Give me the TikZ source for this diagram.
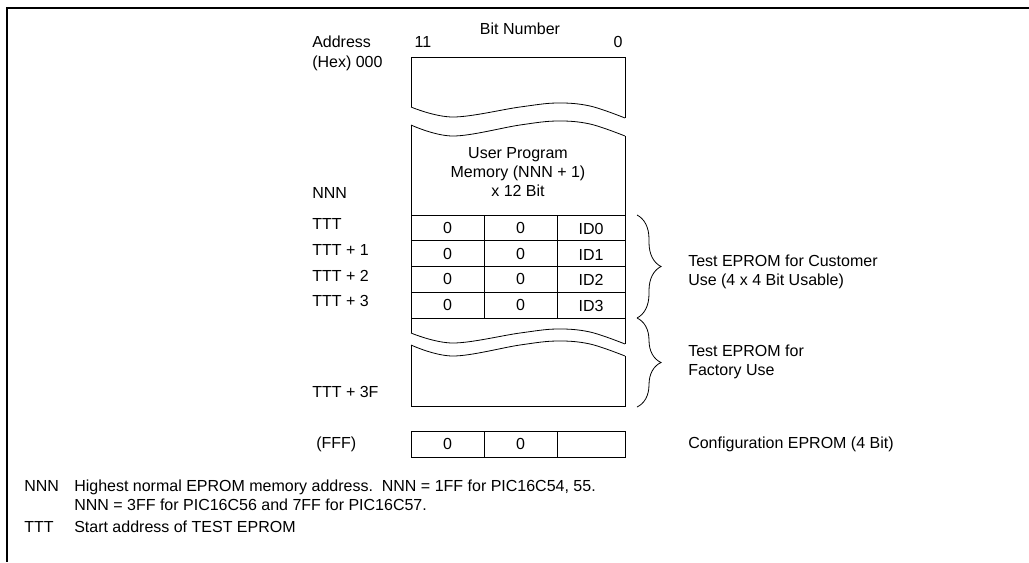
\documentclass[tikz,border=0pt]{standalone}
\usepackage{fontspec}
\setmainfont{Liberation Sans}
\usetikzlibrary{positioning, decorations.pathreplacing}

\begin{document}
\begin{tikzpicture}[x=0.75pt, y=-0.75pt,
  txt/.style={font=\fontsize{12}{14.3}\selectfont, inner sep=0pt},
  addr/.style={txt, anchor=base west},
  cell/.style={txt},
  note/.style={txt, anchor=base west},
  mem/.style={line width=0.6pt},
  frame/.style={line width=1.4pt},
  curly/.style={mem, decorate, decoration={brace, amplitude=18pt}},
  wave/.style={mem, smooth, tension=0.6},
]
  \useasboundingbox (0,0) rectangle (1029,562);
  \def\xl{411}   % left edge of memory map
  \def\xr{625}   % right edge
  \def\xa{484}   % first column divider
  \def\xb{557}   % second column divider
  \def\rt{215}   % top of ID rows
  \def\rh{25.75} % row height

  % --- frame ---
  \draw[frame] (1029,8) -- (7,8) -- (7,562);

  % --- heading ---
  \node[txt] (bitnum) at (520,29) {Bit Number};
  \node[txt] (msb) at (423,42) {11};
  \node[txt] (lsb) at (618,42) {0};

  % --- memory block, broken twice ---
  \draw[mem] (\xl,107) -- (\xl,57) -- (\xr,57) -- (\xr,118);
  \draw[wave] plot coordinates {(411,107) (453,117) (520,107) (557,103) (590,106) (625,118)};
  \draw[wave] plot coordinates {(411,125) (453,136) (520,125) (557,121) (590,124) (625,136)};
  \draw[mem] (\xl,125) -- (\xl,333);
  \draw[mem] (\xr,136) -- (\xr,344);
  \draw[wave] plot coordinates {(411,333) (453,343) (520,333) (557,329) (590,332) (625,344)};
  \draw[wave] plot coordinates {(411,345) (453,356) (520,345) (557,341) (590,344) (625,356)};
  \draw[mem] (\xl,345) -- (\xl,406) -- (\xr,406) -- (\xr,356);

  \node[txt, align=center] (upm) at (518,172) {User Program\\Memory (NNN + 1)\\x 12 Bit};

  % --- ID rows ---
  \draw[mem] (\xa,\rt) -- (\xa,\rt+4*\rh);
  \draw[mem] (\xb,\rt) -- (\xb,\rt+4*\rh);
  \foreach \r in {0,...,4}
    \draw[mem] (\xl,\rt+\r*\rh) -- (\xr,\rt+\r*\rh);
  \foreach \r in {0,...,3} {
    \node[cell] (za\r) at ({(\xl+\xa)/2}, \rt+\r*\rh+\rh/2) {0};
    \node[cell] (zb\r) at ({(\xa+\xb)/2}, \rt+\r*\rh+\rh/2) {0};
    \node[cell] (id\r) at ({(\xb+\xr)/2}, \rt+\r*\rh+\rh/2+1) {ID\r};
  }

  % --- configuration word ---
  \draw[mem] (\xl,431) rectangle (\xr,457);
  \draw[mem] (\xa,431) -- (\xa,457);
  \draw[mem] (\xb,431) -- (\xb,457);
  \node[cell] (cfa) at ({(\xl+\xa)/2},444) {0};
  \node[cell] (cfb) at ({(\xa+\xb)/2},444) {0};

  % --- addresses ---
  \foreach \nm/\yy/\lab in {adr/47/Address, hex/67/{(Hex) 000}, nnn/198/NNN,
      t0/229/TTT, t1/255/{TTT + 1}, t2/281/{TTT + 2}, t3/306/{TTT + 3},
      t3f/397/{TTT + 3F}}
    \node[addr] (\nm) at (312,\yy) {\lab};
  \node[addr] (fff) at (316,448) {(FFF)};

  % --- braces ---
  \coordinate (b1t) at (637,215);
  \coordinate (b1b) at (637,318);
  \coordinate (b2b) at (637,407);
  \draw[curly] (b1t) -- (b1b);
  \draw[curly] (b1b) -- (b2b);
  \node[txt, anchor=west, align=left] (cust) at (688,272)
    {Test EPROM for Customer\\Use (4 x 4 Bit Usable)};
  \node[txt, anchor=west, align=left] (fact) at (688,362)
    {Test EPROM for\\Factory Use};
  \node[addr] (cfg) at (688,448) {Configuration EPROM (4 Bit)};

  % --- notes ---
  \node[note] (kn) at (24,491) {NNN};
  \node[note] (kn1) at (74,491)
    {Highest normal EPROM memory address.\ \ NNN = 1FF for PIC16C54, 55.};
  \node[note] (kn2) at (74,510) {NNN = 3FF for PIC16C56 and 7FF for PIC16C57.};
  \node[note] (kt) at (24,532) {TTT};
  \node[note] (kt1) at (74,532) {Start address of TEST EPROM};
\end{tikzpicture}
\end{document}
